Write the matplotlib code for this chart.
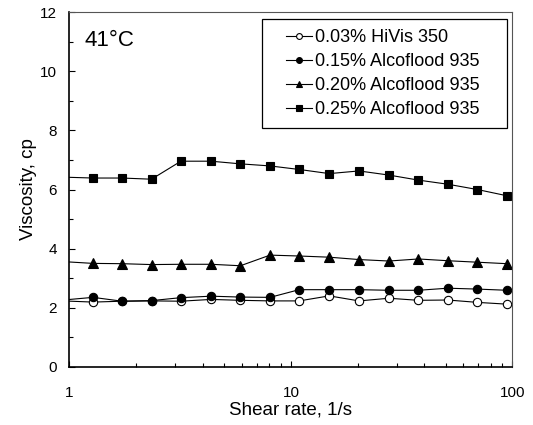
import matplotlib
matplotlib.use("Agg")
import matplotlib.pyplot as plt
from matplotlib.patches import Rectangle
from matplotlib.ticker import FixedLocator, NullFormatter, FixedFormatter

plt.rcParams['font.family'] = ['Liberation Sans', 'DejaVu Sans']

# shear rate, 1/s (first point sits just left of the axis and is clipped)
shear_rate = [0.94, 1.28, 1.73, 2.35, 3.19, 4.36, 5.92, 8.05, 10.9, 14.9,
              20.3, 27.7, 37.6, 51.1, 69.5, 94.4]

hivis_003 = [2.23, 2.19, 2.22, 2.23, 2.22, 2.28, 2.25, 2.23, 2.23, 2.40,
             2.23, 2.32, 2.25, 2.26, 2.18, 2.12]
alco_015 = [2.26, 2.35, 2.22, 2.24, 2.34, 2.39, 2.36, 2.35, 2.61, 2.61,
            2.61, 2.59, 2.59, 2.66, 2.63, 2.59]
alco_020 = [3.56, 3.50, 3.49, 3.46, 3.47, 3.47, 3.42, 3.78, 3.75, 3.71,
            3.63, 3.58, 3.65, 3.59, 3.54, 3.49]
alco_025 = [6.42, 6.39, 6.39, 6.35, 6.96, 6.96, 6.87, 6.80, 6.68, 6.54,
            6.63, 6.49, 6.32, 6.18, 6.00, 5.79]

series = [
    ('0.03% HiVis 350', hivis_003, 'o', 'white', 6.0),
    ('0.15% Alcoflood 935', alco_015, 'o', 'black', 6.0),
    ('0.20% Alcoflood 935', alco_020, '^', 'black', 6.5),
    ('0.25% Alcoflood 935', alco_025, 's', 'black', 6.0),
]

fig = plt.figure(figsize=(5.33, 4.25), dpi=100)
ax = fig.add_axes([0.130, 0.137, 0.8315, 0.834])

for label, vals, mk, fc, ms in series:
    ax.plot(shear_rate, vals, color='black', linewidth=0.8, marker=mk,
            markerfacecolor=fc, markeredgecolor='black', markeredgewidth=0.8,
            markersize=ms, markevery=slice(1, None), label=label)

ax.set_xscale('log')
ax.set_xlim(1, 100)
ax.set_ylim(0, 12)

ax.xaxis.set_major_locator(FixedLocator([1, 10, 100]))
ax.xaxis.set_major_formatter(FixedFormatter(['1', '10', '100']))
minors = [m * d for d in (1, 10) for m in range(2, 10)]
ax.xaxis.set_minor_locator(FixedLocator(minors))
ax.xaxis.set_minor_formatter(NullFormatter())
ax.set_yticks(range(0, 13, 2))
ax.set_yticks(range(1, 12, 2), minor=True)

ax.tick_params(which='both', direction='in', top=False, right=False,
               labelsize=11, width=0.8, color='black')
ax.tick_params(which='major', length=4)
ax.tick_params(which='minor', length=3)
ax.tick_params(axis='y', pad=9)
ax.tick_params(axis='x', pad=14)

for side in ['left', 'bottom']:
    ax.spines[side].set_linewidth(1.2)
for side in ['top', 'right']:
    ax.spines[side].set_linewidth(0.8)
    ax.spines[side].set_color('#555555')

ax.set_xlabel('Shear rate, 1/s', fontsize=13.5, labelpad=1)
ax.set_ylabel('Viscosity, cp', fontsize=13.5)
ax.yaxis.set_label_coords(-0.073, 0.5)

ax.text(0.035, 0.905, '41°C', transform=ax.transAxes, fontsize=16)

# legend frame drawn separately so the handles can sit indented like the original
ax.add_patch(Rectangle((0.435, 0.6735), 0.5525, 0.3075, transform=ax.transAxes,
                       facecolor='white', edgecolor='black', linewidth=0.9,
                       zorder=4))
leg = ax.legend(loc='upper left', bbox_to_anchor=(0.4895, 0.952),
                fontsize=13, frameon=False, handlelength=1.4,
                handletextpad=0.2, labelspacing=0.39, borderaxespad=0,
                borderpad=0, markerscale=0.7)
leg.set_zorder(5)

plt.savefig('out.png', dpi=100)
plt.close()
